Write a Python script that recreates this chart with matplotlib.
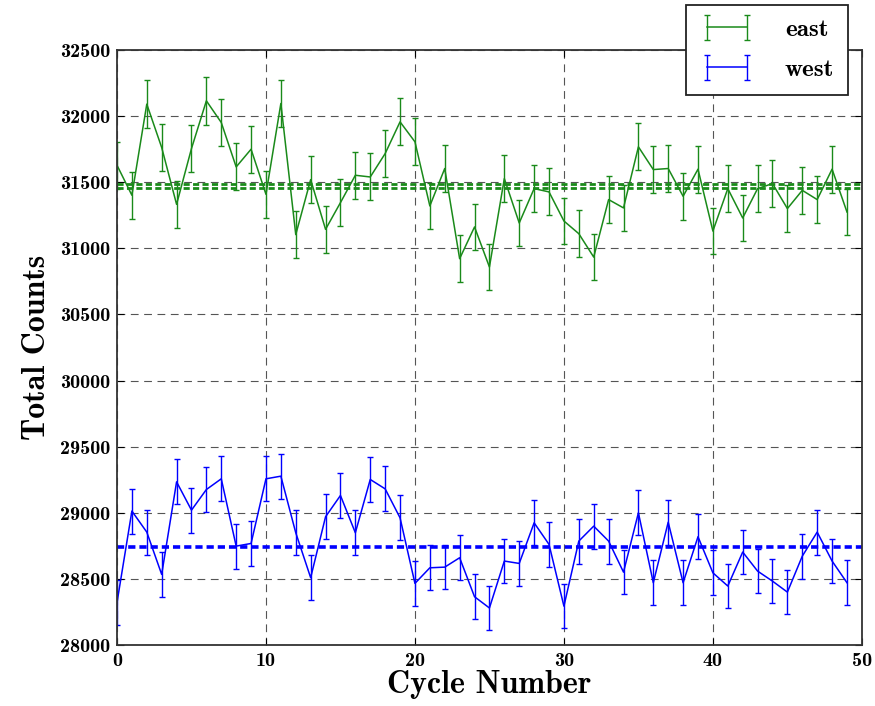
import numpy as np
import matplotlib
matplotlib.use("Agg")
import matplotlib.pyplot as plt

# counts per cycle
cycles = np.arange(50)
east_counts = [
    31629, 31402, 32091, 31763, 31333, 31755, 32116, 31952, 31616, 31750,
    31409, 32096, 31104, 31520, 31144, 31346, 31553, 31540, 31717, 31957,
    31806, 31321, 31604, 30922, 31162, 30859, 31528, 31192, 31452, 31427,
    31207, 31111, 30934, 31369, 31306, 31768, 31596, 31604, 31394, 31599,
    31131, 31452, 31230, 31452, 31490, 31301, 31439, 31369, 31599, 31275,
]
west_counts = [
    28320, 29013, 28854, 28534, 29234, 29020, 29176, 29257, 28748, 28768,
    29257, 29277, 28849, 28509, 28970, 29131, 28849, 29252, 29181, 28962,
    28466, 28584, 28589, 28660, 28365, 28280, 28635, 28617, 28924, 28761,
    28294, 28786, 28899, 28786, 28551, 29000, 28471, 28929, 28471, 28819,
    28546, 28446, 28703, 28559, 28483, 28400, 28672, 28854, 28635, 28471,
]
east_means = [31485, 31460]
west_means = [28743]

east_err = np.sqrt(east_counts)
west_err = np.sqrt(west_counts)

plt.rcParams["font.family"] = ["cmb10", "DejaVu Serif"]
plt.rcParams["axes.unicode_minus"] = False

fig = plt.figure(figsize=(8.75, 7.06), dpi=100)
ax = fig.add_axes([0.1337, 0.0864, 0.8513, 0.8427])

green = "#1a8a1a"
blue = "#0000ff"

ax.errorbar(cycles, east_counts, yerr=east_err, color=green, lw=1.1,
            capsize=2.2, capthick=1.0, elinewidth=1.0, label="east")
ax.errorbar(cycles, west_counts, yerr=west_err, color=blue, lw=1.1,
            capsize=2.2, capthick=1.0, elinewidth=1.0, label="west")

for m in east_means:
    ax.axhline(m, color=green, lw=2.0, dashes=(2.2, 1.2))
for m in west_means:
    ax.axhline(m, color=blue, lw=2.6, dashes=(2.0, 1.1))

ax.set_xlim(0, 50)
ax.set_ylim(28000, 32500)
ax.set_xticks(range(0, 51, 10))
ax.set_yticks(range(28000, 32501, 500))
ax.grid(True, color="#555555", lw=0.8, linestyle=(0, (7, 5)))
ax.tick_params(direction="in", top=True, right=True, length=5,
               labelsize=14.5, pad=5)
for s in ax.spines.values():
    s.set_color("#333333")
    s.set_linewidth(1.3)

ax.set_xlabel("Cycle Number", fontsize=23, labelpad=0)
ax.set_ylabel("Total Counts", fontsize=23, labelpad=6)

leg = ax.legend(loc="upper right", bbox_to_anchor=(0.969, 0.993),
                bbox_transform=fig.transFigure, borderaxespad=0, numpoints=2,
                fancybox=False, edgecolor="#222222", framealpha=1,
                prop={"family": "cmb10", "size": 18}, handlelength=2.2,
                borderpad=0.55, labelspacing=0.7, handletextpad=1.2)
leg.get_frame().set_linewidth(1.3)

fig.savefig("out.png", dpi=100)
